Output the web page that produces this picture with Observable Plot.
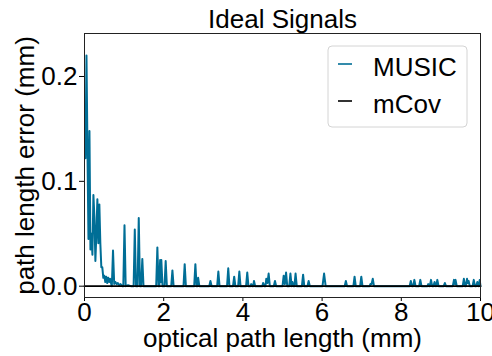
<!DOCTYPE html>
<html>
<head>
<meta charset="utf-8">
<script src="https://cdn.jsdelivr.net/npm/d3@7"></script>
<script src="https://cdn.jsdelivr.net/npm/@observablehq/plot@0.6"></script>
<style>
  html, body { margin: 0; padding: 0; background: #fff; }
</style>
</head>
<body>
<div id="chart"></div>
<script>
// Text
const title = "Ideal Signals";
const xLabel = "optical path length (mm)";
const yLabel = "path length error (mm)";
const seriesNames = ["MUSIC", "mCov"];

// Ticks
const xTicks = [0, 2, 4, 6, 8, 10];
const yTicks = [0, 0.1, 0.2];

// MUSIC error vs. optical path length, [opl (mm), error (mm)]
const music = [
  [0.025, 0.122], [0.05, 0.220], [0.075, 0.130], [0.10, 0.045], [0.125, 0.148],
  [0.15, 0.035], [0.175, 0.050], [0.20, 0.030], [0.225, 0.087], [0.25, 0.066],
  [0.275, 0.024], [0.30, 0.050], [0.325, 0.083], [0.35, 0.041], [0.375, 0.078],
  [0.40, 0.041], [0.425, 0.018], [0.45, 0.018], [0.475, 0.008], [0.50, 0.010],
  [0.525, 0.004], [0.55, 0.009], [0.575, 0.003], [0.60, 0.008], [0.625, 0.004],
  [0.65, 0.007], [0.675, 0.002], [0.69, 0.0], [0.72, 0.034], [0.75, 0.002],
  [0.78, 0.004], [0.81, 0.002], [0.84, 0.003], [0.87, 0.001], [0.91, 0.002],
  [0.95, 0.0], [0.98, 0.0], [1.01, 0.058], [1.04, 0.0], [1.10, 0.001],
  [1.17, 0.0], [1.24, 0.0], [1.27, 0.054], [1.30, 0.0], [1.34, 0.0],
  [1.37, 0.065], [1.40, 0.0], [1.43, 0.0], [1.46, 0.026], [1.49, 0.0],
  [1.81, 0.0], [1.84, 0.037], [1.87, 0.0], [1.89, 0.0], [1.91, 0.025],
  [1.925, 0.004], [1.94, 0.025], [1.97, 0.0], [2.02, 0.0], [2.05, 0.024],
  [2.08, 0.0], [2.19, 0.0], [2.22, 0.015], [2.25, 0.0], [2.50, 0.0],
  [2.53, 0.021], [2.56, 0.0], [2.77, 0.0], [2.80, 0.021], [2.83, 0.0],
  [2.85, 0.0], [2.87, 0.008], [2.90, 0.0], [3.15, 0.0], [3.18, 0.005],
  [3.21, 0.0], [3.35, 0.0], [3.38, 0.014], [3.41, 0.0], [3.60, 0.0],
  [3.63, 0.017], [3.66, 0.0], [3.75, 0.0], [3.78, 0.009], [3.81, 0.0],
  [3.88, 0.0], [3.91, 0.014], [3.94, 0.0], [4.08, 0.0], [4.11, 0.013],
  [4.14, 0.0], [4.19, 0.0], [4.21, 0.002], [4.24, 0.0], [4.26, 0.0],
  [4.28, 0.005], [4.31, 0.0], [4.49, 0.0], [4.51, 0.003], [4.55, 0.0],
  [4.57, 0.0], [4.59, 0.007], [4.62, 0.003], [4.65, 0.012], [4.68, 0.0],
  [4.78, 0.0], [4.81, 0.005], [4.84, 0.0], [5.00, 0.0], [5.03, 0.010],
  [5.06, 0.002], [5.09, 0.013], [5.12, 0.0], [5.17, 0.0], [5.20, 0.012],
  [5.23, 0.0], [5.25, 0.004], [5.28, 0.0], [5.30, 0.0], [5.33, 0.012],
  [5.36, 0.0], [5.49, 0.0], [5.52, 0.011], [5.55, 0.0], [5.63, 0.0],
  [5.66, 0.005], [5.69, 0.0], [6.01, 0.0], [6.05, 0.012], [6.09, 0.0],
  [6.57, 0.0], [6.60, 0.005], [6.63, 0.0], [6.79, 0.0], [6.82, 0.009],
  [6.85, 0.0], [6.96, 0.0], [6.99, 0.009], [7.02, 0.0], [7.20, 0.0],
  [7.22, 0.002], [7.25, 0.002], [7.28, 0.007], [7.31, 0.0], [8.21, 0.0],
  [8.24, 0.005], [8.27, 0.0], [8.30, 0.0], [8.33, 0.006], [8.36, 0.0],
  [8.45, 0.0], [8.48, 0.006], [8.51, 0.0], [8.66, 0.0], [8.68, 0.002],
  [8.71, 0.0], [8.72, 0.0], [8.75, 0.006], [8.78, 0.0], [8.81, 0.0],
  [8.84, 0.004], [8.87, 0.0], [8.88, 0.0], [8.91, 0.006], [8.94, 0.0],
  [9.07, 0.0], [9.10, 0.003], [9.13, 0.0], [9.30, 0.0], [9.33, 0.006],
  [9.35, 0.002], [9.37, 0.006], [9.40, 0.0], [9.55, 0.0], [9.58, 0.007],
  [9.61, 0.0], [9.63, 0.0], [9.66, 0.007], [9.68, 0.003], [9.70, 0.005],
  [9.73, 0.0], [9.80, 0.0], [9.83, 0.006], [9.86, 0.0], [9.89, 0.0],
  [9.92, 0.004], [9.95, 0.0], [9.96, 0.0], [9.98, 0.006], [10.0, 0.0]
];

// mCov error stays at zero across the whole range
const mcov = [[0, 0], [10, 0]];

const musicColor = "#006e96";
const mcovColor = "#000000";
const font = "'Liberation Sans', Arial, Helvetica, sans-serif";

const svg = Plot.plot({
  width: 492,
  height: 356,
  marginLeft: 84,
  marginRight: 12,
  marginTop: 33,
  marginBottom: 59,
  style: { fontFamily: font, fontSize: "26px", background: "#fff", color: "#000", overflow: "visible" },
  x: { domain: [0, 10] },
  y: { domain: [-0.0108, 0.241] },
  marks: [
    Plot.axisX({ ticks: xTicks, tickFormat: d => String(d), tickSize: 4, tickPadding: 1, fontSize: 26, label: null }),
    Plot.axisY({ ticks: yTicks, tickFormat: d3.format(".1f"), tickSize: 5, tickPadding: 2, fontSize: 26, label: null }),
    Plot.line(music, { x: d => d[0], y: d => d[1], stroke: musicColor, strokeWidth: 2 }),
    Plot.line(mcov, { x: d => d[0], y: d => d[1], stroke: mcovColor, strokeWidth: 1.8 }),
    Plot.frame({ stroke: "#222", strokeWidth: 1 }),
    Plot.text([title], { frameAnchor: "top", dy: -14, lineAnchor: "middle", textAnchor: "middle", fontSize: 26, fill: "#000" }),
    Plot.text([xLabel], { frameAnchor: "bottom", dy: 41, lineAnchor: "middle", textAnchor: "middle", fontSize: 26, fill: "#000" }),
    Plot.text([yLabel], { frameAnchor: "left", dx: -59, rotate: -90, lineAnchor: "middle", textAnchor: "middle", fontSize: 26, fill: "#000" })
  ]
});

// Legend box in the upper right of the plot area
const colors = [musicColor, mcovColor];
const legend = d3.select(svg).append("g")
  .attr("font-family", font).attr("font-size", 26).attr("text-anchor", "start");
legend.append("rect")
  .attr("x", 328).attr("y", 46).attr("width", 139).attr("height", 81)
  .attr("rx", 4).attr("fill", "#fff").attr("fill-opacity", 0.8)
  .attr("stroke", "#d4d4d4").attr("stroke-width", 1);
seriesNames.forEach((name, i) => {
  const cy = 64 + i * 37;
  legend.append("line")
    .attr("x1", 338).attr("x2", 352).attr("y1", cy).attr("y2", cy)
    .attr("stroke", colors[i]).attr("stroke-width", 1.6);
  legend.append("text")
    .attr("x", 373).attr("y", cy + 11.5)
    .attr("text-anchor", "start")
    .attr("fill", "#000").text(name);
});

document.getElementById("chart").append(svg);
</script>
</body>
</html>
